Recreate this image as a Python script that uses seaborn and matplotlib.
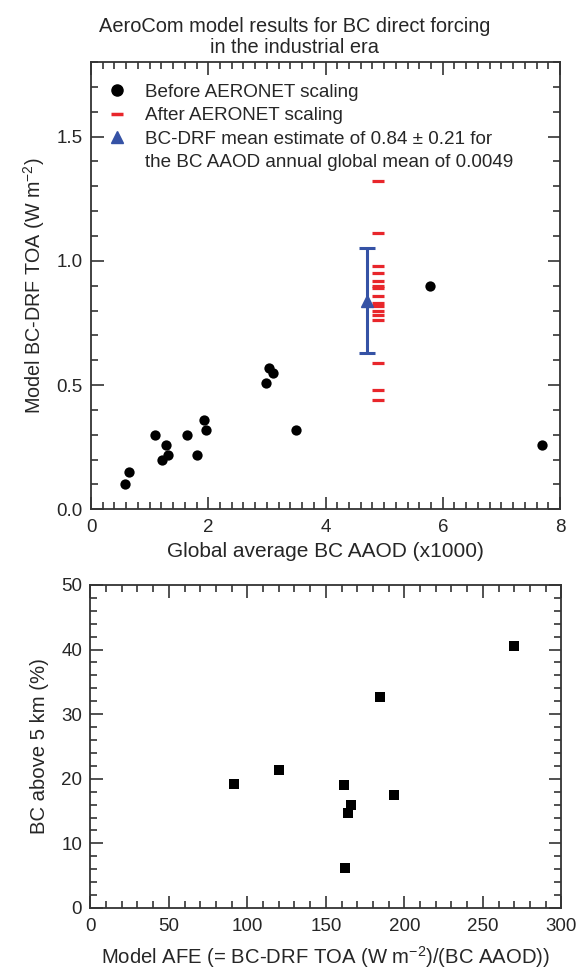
import numpy as np
import matplotlib
matplotlib.use("Agg")
import matplotlib.pyplot as plt
import seaborn as sns
from matplotlib.lines import Line2D
from matplotlib.ticker import MultipleLocator, FormatStrFormatter

# --- data ---
before_aaod = [0.58, 0.64, 1.09, 1.28, 1.21, 1.32, 1.63, 1.81, 1.93, 1.96,
               3.04, 3.10, 2.99, 3.49, 5.78, 7.69]
before_drf = [0.10, 0.15, 0.30, 0.26, 0.20, 0.22, 0.30, 0.22, 0.36, 0.32,
              0.57, 0.55, 0.51, 0.32, 0.90, 0.26]

after_drf = [1.32, 1.11, 0.98, 0.95, 0.92, 0.90, 0.89, 0.86, 0.83, 0.82,
             0.80, 0.78, 0.76, 0.59, 0.48, 0.44]
after_aaod = [4.9] * len(after_drf)

mean_aaod = [4.7]
mean_drf = [0.84]
mean_err = [0.21]

afe = [91.3, 120.2, 161.3, 165.8, 164.1, 162.4, 184.4, 193.5, 270.1]
bc_above5 = [19.2, 21.3, 19.1, 16.0, 14.7, 6.2, 32.7, 17.5, 40.6]

RED = "#e8262b"
BLUE = "#3552a5"

sns.set_style("ticks")
plt.rcParams["font.family"] = ["Liberation Sans", "DejaVu Sans"]
plt.rcParams["mathtext.fontset"] = "custom"
plt.rcParams["mathtext.rm"] = "Liberation Sans"
plt.rcParams["mathtext.it"] = "Liberation Sans:italic"

fig = plt.figure(figsize=(5.85, 9.69), dpi=100)
ax1 = fig.add_axes([0.1556, 0.4744, 0.8017, 0.4616])
ax2 = fig.add_axes([0.1545, 0.0630, 0.8050, 0.3333])


def style_axes(ax):
    for s in ax.spines.values():
        s.set_linewidth(1.3)
        s.set_color("#333333")
    ax.tick_params(which="both", direction="in", top=True, right=True,
                   color="#333333", width=1.2, labelsize=13.5)
    ax.tick_params(axis="x", pad=7)
    ax.tick_params(axis="y", pad=6)
    ax.tick_params(which="major", length=9)
    ax.tick_params(which="minor", length=5)


# top panel
sns.scatterplot(x=before_aaod, y=before_drf, ax=ax1, color="black", s=55,
                edgecolor="black", linewidth=0, zorder=3)
sns.scatterplot(x=after_aaod, y=after_drf, ax=ax1, color=RED, marker="_",
                s=75, linewidth=2.3, zorder=3)
ax1.errorbar(mean_aaod, mean_drf, yerr=mean_err, fmt="^", color=BLUE,
             ms=8, elinewidth=2.2, capsize=5.5, capthick=2.2, zorder=4)

ax1.set_xlim(0, 8)
ax1.set_ylim(0, 1.8)
ax1.xaxis.set_major_locator(MultipleLocator(2))
ax1.xaxis.set_minor_locator(MultipleLocator(0.2))
ax1.yaxis.set_major_locator(MultipleLocator(0.5))
ax1.yaxis.set_minor_locator(MultipleLocator(0.1))
ax1.yaxis.set_major_formatter(FormatStrFormatter("%.1f"))
ax1.set_yticks([0.0, 0.5, 1.0, 1.5])
ax1.set_xlabel("Global average BC AAOD (x1000)", fontsize=15, labelpad=4)
ax1.set_ylabel("Model BC-DRF TOA (W m$^{-2}$)", fontsize=14.2, labelpad=7)
style_axes(ax1)

handles = [
    Line2D([], [], marker="o", color="black", ls="none", ms=8),
    Line2D([], [], marker="_", color=RED, ls="none", ms=9, mew=2.5),
    Line2D([], [], marker="^", color=BLUE, ls="none", ms=8),
    Line2D([], [], ls="none"),
]
labels = ["Before AERONET scaling", "After AERONET scaling",
          "BC-DRF mean estimate of 0.84 \u00b1 0.21 for",
          "the BC AAOD annual global mean of 0.0049"]
ax1.legend(handles, labels, loc="upper left", frameon=False, fontsize=13.6,
           handletextpad=1.0, handlelength=1.0, labelspacing=0.32,
           borderaxespad=0.0, bbox_to_anchor=(0.019, 0.968))

fig.text(0.504, 0.982, "AeroCom model results for BC direct forcing\nin the industrial era",
         ha="center", va="top", fontsize=14.4, linespacing=1.1)

# bottom panel
sns.scatterplot(x=afe, y=bc_above5, ax=ax2, color="black", marker="s", s=60,
                edgecolor="black", linewidth=0, zorder=3)
ax2.set_xlim(0, 300)
ax2.set_ylim(0, 50)
ax2.xaxis.set_major_locator(MultipleLocator(50))
ax2.xaxis.set_minor_locator(MultipleLocator(10))
ax2.yaxis.set_major_locator(MultipleLocator(10))
ax2.yaxis.set_minor_locator(MultipleLocator(2))
ax2.set_xlabel("Model AFE (= BC-DRF TOA (W m$^{-2}$)/(BC AAOD))", fontsize=14.6, labelpad=7)
ax2.set_ylabel("BC above 5 km (%)", fontsize=14.6, labelpad=9)
style_axes(ax2)

fig.savefig("out.png", dpi=100)
